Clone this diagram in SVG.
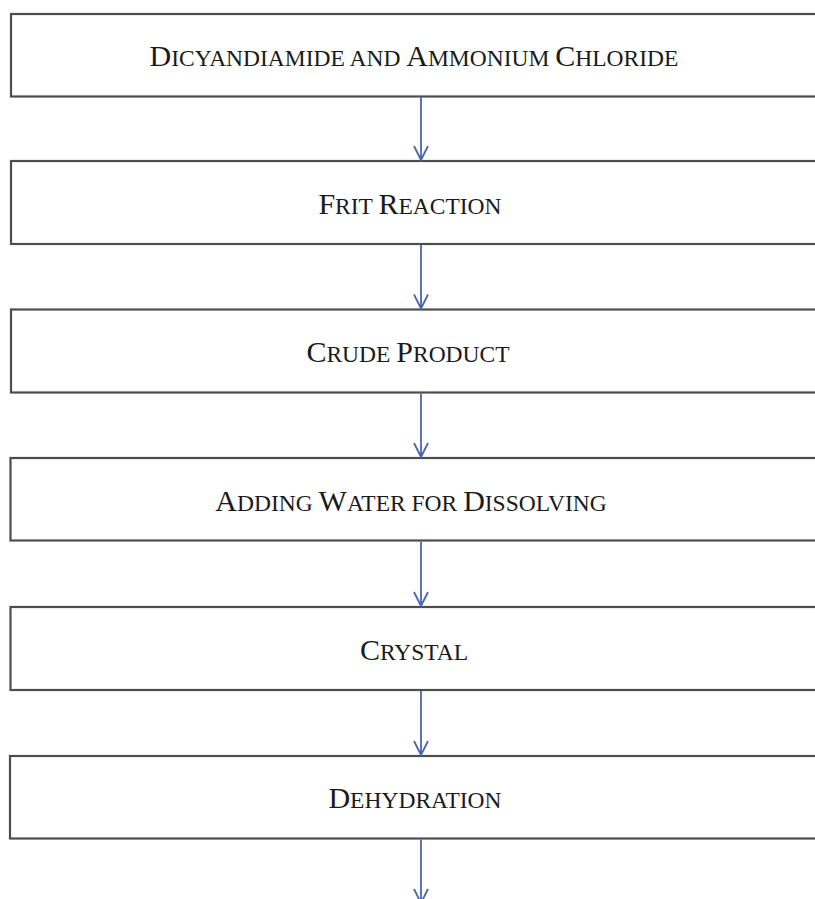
<svg xmlns="http://www.w3.org/2000/svg" width="815" height="899" viewBox="0 0 815 899">
<style>
.box{fill:#ffffff;stroke:#4d4d4d;stroke-width:2.2}
.lbl{font-family:"Liberation Serif","Times New Roman",serif;fill:#1a1a1a;text-anchor:middle;font-size:30px}
.sc{font-size:23.5px}
.conn{stroke:#4a66b0;stroke-width:1.8;fill:none}
</style>
<rect x="0" y="0" width="815" height="899" fill="#ffffff"/>
<g id="n1"><rect class="box" x="11" y="14" width="830" height="82.5"/>
<text class="lbl" x="414" y="66">D<tspan class="sc">ICYANDIAMIDE AND </tspan>A<tspan class="sc">MMONIUM </tspan>C<tspan class="sc">HLORIDE</tspan></text></g>
<g id="n2"><rect class="box" x="11" y="161" width="830" height="83"/>
<text class="lbl" x="410" y="214">F<tspan class="sc">RIT </tspan>R<tspan class="sc">EACTION</tspan></text></g>
<g id="n3"><rect class="box" x="11" y="309.5" width="830" height="83"/>
<text class="lbl" x="408" y="362">C<tspan class="sc">RUDE </tspan>P<tspan class="sc">RODUCT</tspan></text></g>
<g id="n4"><rect class="box" x="10.5" y="458" width="830" height="82.5"/>
<text class="lbl" x="411" y="511">A<tspan class="sc">DDING </tspan>W<tspan class="sc">ATER FOR </tspan>D<tspan class="sc">ISSOLVING</tspan></text></g>
<g id="n5"><rect class="box" x="10.5" y="607" width="830" height="83"/>
<text class="lbl" x="414" y="660">C<tspan class="sc">RYSTAL</tspan></text></g>
<g id="n6"><rect class="box" x="10" y="756" width="830" height="82.5"/>
<text class="lbl" x="415" y="808">D<tspan class="sc">EHYDRATION</tspan></text></g>
<g id="connectors">
<path class="conn" d="M421 97 V160 M414 146 L421 160 L428 146"/>
<path class="conn" d="M421 245 V308.5 M414 294.5 L421 308.5 L428 294.5"/>
<path class="conn" d="M421 393.5 V457 M414 443 L421 457 L428 443"/>
<path class="conn" d="M421 541.5 V606 M414 592 L421 606 L428 592"/>
<path class="conn" d="M421 691 V755 M414 741 L421 755 L428 741"/>
<path class="conn" d="M421 839.5 V903 M414 889 L421 903 L428 889"/>
</g>
</svg>
